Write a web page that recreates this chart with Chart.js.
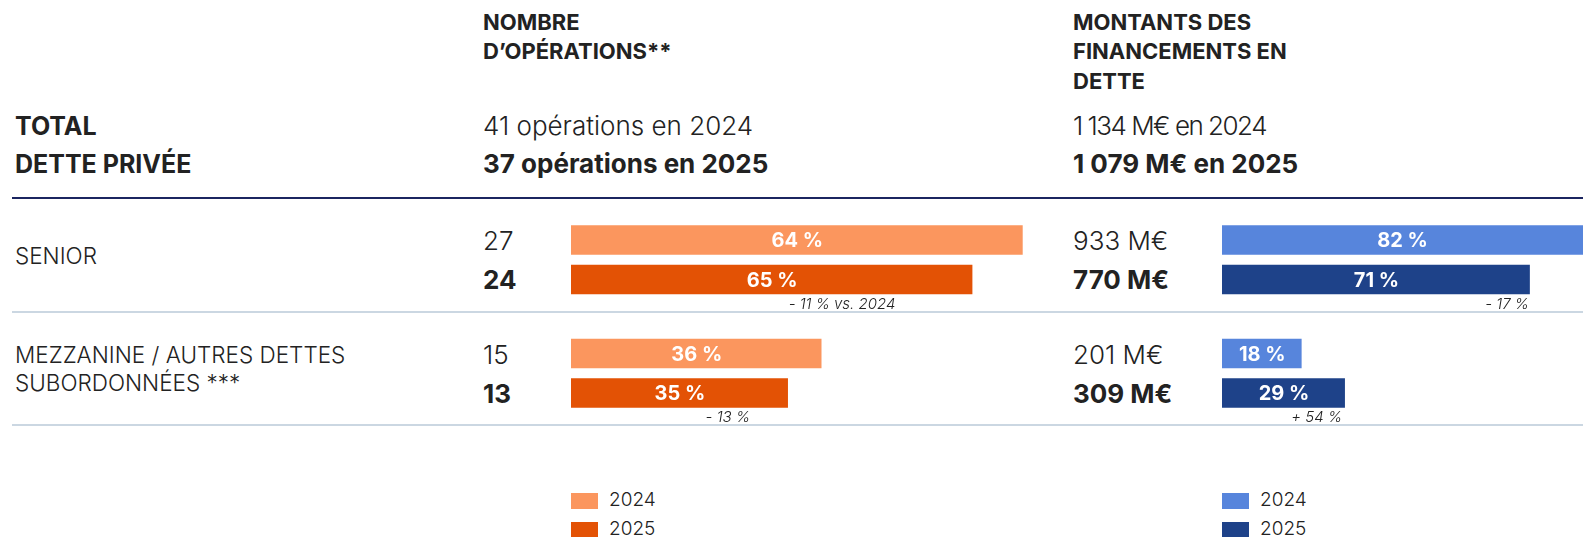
<!DOCTYPE html>
<html>
<head>
<meta charset="utf-8">
<script src="https://cdn.jsdelivr.net/npm/chart.js@4.4.1/dist/chart.umd.min.js"></script>
<style>
body { margin: 0; width: 1583px; height: 537px; overflow: hidden; background: #fff; position: relative;
       font-family: Inter, "DejaVu Sans", sans-serif; color: #222; }
.t { position: absolute; white-space: nowrap; line-height: 1; transform: translateY(-50%); }
.head { font-weight: 700; font-size: 22px; }
.big { font-size: 26px; font-weight: 300; }
.big b { font-weight: 700; }
.lab { font-size: 22.5px; font-weight: 300; }
.tight { letter-spacing: -1.5px; }
.rule { position: absolute; left: 12px; right: 0; }
canvas { position: absolute; }
.leg { position: absolute; font-size: 19px; font-weight: 300; line-height: 1; }
.leg span { display: inline-block; width: 27px; height: 16px; vertical-align: middle; margin-right: 11px; }
</style>
</head>
<body>
<div class="t head" style="left:483px;top:22px">NOMBRE</div>
<div class="t head" style="left:483px;top:51px">D’OPÉRATIONS**</div>
<div class="t head" style="left:1073px;top:22px">MONTANTS DES</div>
<div class="t head" style="left:1073px;top:51px">FINANCEMENTS EN</div>
<div class="t head" style="left:1073px;top:81px">DETTE</div>
<div class="t head" style="left:15px;top:126px;font-size:25px">TOTAL</div>
<div class="t head" style="left:15px;top:164px;font-size:25px">DETTE PRIVÉE</div>
<div id="totals"></div>
<div class="rule" style="top:197px;height:2px;background:#1b2560"></div>
<div class="rule" style="top:311px;height:2px;background:#cbd7e2"></div>
<div class="rule" style="top:424px;height:2px;background:#cbd7e2"></div>
<div id="rowText"></div>
<canvas id="opsChart" width="503" height="227" style="left:571px;top:203px"></canvas>
<canvas id="amtChart" width="361" height="227" style="left:1222px;top:203px"></canvas>
<div id="legends"></div>
<script>
const categories = ["SENIOR", "MEZZANINE / AUTRES DETTES|SUBORDONNÉES ***"];
const years = ["2024", "2025"];

const totalOps = [41, 37];
const totalAmt = ["1 134", "1 079"];

const ops2024 = [27, 15];
const ops2025 = [24, 13];
const opsShare2024 = ["64 %", "36 %"];
const opsShare2025 = ["65 %", "35 %"];
const opsChange = ["- 11 % vs. 2024", "- 13 %"];

const amt2024 = [933, 201];
const amt2025 = [770, 309];
const amtShare2024 = ["82 %", "18 %"];
const amtShare2025 = ["71 %", "29 %"];
const amtChange = ["- 17 %", "+ 54 %"];

const orange = ["#fb965e", "#e35205"];
const blue = ["#5785dc", "#1e4289"];

// textes fixes autour des graphiques
const tot = document.getElementById("totals");
tot.innerHTML =
    `<div class="t big" style="left:483px;top:126px">${totalOps[0]} opérations en ${years[0]}</div>` +
    `<div class="t big" style="left:483px;top:164px"><b>${totalOps[1]} opérations en ${years[1]}</b></div>` +
    `<div class="t big tight" style="left:1073px;top:126px">${totalAmt[0]} M€ en ${years[0]}</div>` +
    `<div class="t big" style="left:1073px;top:164px"><b>${totalAmt[1]} M€ en ${years[1]}</b></div>`;

const rowTops = [260, 374];
let html = "";
categories.forEach((c, i) => {
    const lines = c.split("|");
    const y0 = lines.length > 1 ? rowTops[i] - 19 : rowTops[i] - 4;
    lines.forEach((l, k) => {
        html += `<div class="t lab" style="left:15px;top:${y0 + k * 28}px">${l}</div>`;
    });
    html += `<div class="t big" style="left:483px;top:${rowTops[i] - 19}px">${ops2024[i]}</div>`;
    html += `<div class="t big" style="left:483px;top:${rowTops[i] + 20}px"><b>${ops2025[i]}</b></div>`;
    html += `<div class="t big" style="left:1073px;top:${rowTops[i] - 19}px">${amt2024[i]} M€</div>`;
    html += `<div class="t big" style="left:1073px;top:${rowTops[i] + 20}px"><b>${amt2025[i]} M€</b></div>`;
});
document.getElementById("rowText").innerHTML = html;

let leg = "";
[[571, orange], [1222, blue]].forEach(([x, cols]) => {
    years.forEach((y, k) => {
        leg += `<div class="leg" style="left:${x}px;top:${490 + k * 29}px"><span style="background:${cols[k]}"></span>${y}</div>`;
    });
});
document.getElementById("legends").innerHTML = leg;

// étiquettes dans les barres + variation sous la barre 2025
const barLabels = {
    id: "barLabels",
    afterDatasetsDraw(chart, args, opts) {
        const ctx = chart.ctx;
        const area = chart.chartArea;
        ctx.save();
        chart.data.datasets.forEach((ds, di) => {
            chart.getDatasetMeta(di).data.forEach((bar, i) => {
                const right = Math.min(bar.x, area.right);
                ctx.fillStyle = "#fff";
                ctx.font = "700 20px Inter, sans-serif";
                ctx.textAlign = "center";
                ctx.textBaseline = "middle";
                ctx.fillText(opts.shares[di][i], (bar.base + right) / 2, bar.y + 1);
                if (di === 1) {
                    ctx.fillStyle = "#222";
                    ctx.font = "italic 300 15px Inter, sans-serif";
                    ctx.textAlign = "right";
                    ctx.fillText(opts.change[i], bar.x - opts.shift[i], bar.y + bar.height / 2 + 9);
                }
            });
        });
        ctx.restore();
    }
};

function makeChart(id, d24, d25, share24, share25, change, cols, max, shift) {
    return new Chart(document.getElementById(id), {
        type: "bar",
        data: {
            labels: categories,
            datasets: [
                { label: years[0], data: d24, backgroundColor: cols[0], borderColor: "rgba(255,255,255,0.35)", borderWidth: 1 },
                { label: years[1], data: d25, backgroundColor: cols[1], borderColor: "rgba(255,255,255,0.2)", borderWidth: 1 }
            ]
        },
        options: {
            indexAxis: "y",
            responsive: false,
            animation: false,
            categoryPercentage: 0.696,
            barPercentage: 0.797,
            layout: { padding: 0 },
            scales: {
                x: { display: false, min: 0, max: max },
                y: { display: false }
            },
            plugins: {
                legend: { display: false },
                tooltip: { enabled: false },
                barLabels: { shares: [share24, share25], change: change, shift: shift }
            }
        },
        plugins: [barLabels]
    });
}

makeChart("opsChart", ops2024, ops2025, opsShare2024, opsShare2025, opsChange, orange, 30, [78, 39]);
makeChart("amtChart", amt2024, amt2025, amtShare2024, amtShare2025, amtChange, blue, 900, [2, 4]);
</script>
</body>
</html>
